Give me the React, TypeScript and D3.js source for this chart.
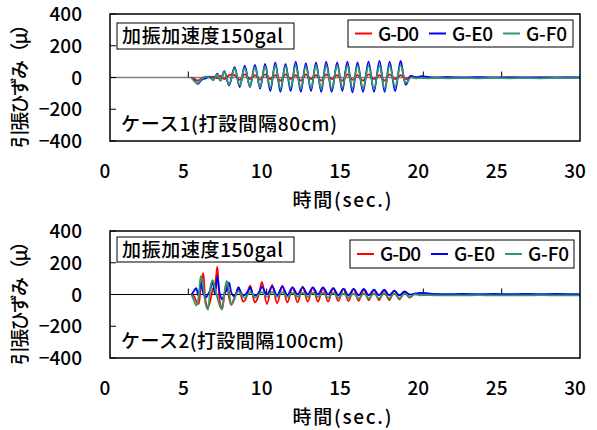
import React from 'react';
import * as d3 from 'd3';

// ---------- data ----------
const X_TICKS = [0, 5, 10, 15, 20, 25, 30];
const Y_TICKS = [400, 200, 0, -200, -400];
const Y_TICK_LABELS = ['400', '200', '0', '−200', '−400'];
const SERIES_NAMES = ['G-D0', 'G-E0', 'G-F0'];
const SERIES_COLORS = ['#ff0000', '#0000ff', '#339966'];
const X_TITLE = '時間(sec.)';
const Y_TITLE = '引張ひずみ（μ）';
const ACCEL_LABEL = '加振加速度150gal';
const CASE_LABELS = ['ケース1(打設間隔80cm)', 'ケース2(打設間隔100cm)'];

const case1Time = [
  5.2, 5.4, 5.6, 5.85, 6.1, 6.35, 6.6, 6.85, 7.05, 7.3, 7.6,
  7.95, 8.28, 8.6, 8.93, 9.25, 9.58, 9.9, 10.23, 10.55, 10.88, 11.2, 11.53, 11.85, 12.18,
  12.5, 12.83, 13.15, 13.48, 13.8, 14.15, 14.5, 14.83, 15.15, 15.48, 15.8, 16.15, 16.5,
  16.85, 17.2, 17.53, 17.85, 18.2, 18.55, 18.88,
  19.2, 19.5, 19.9, 20.3, 20.8, 21.5, 22.5, 23.5, 24.5, 25.5, 26.5, 27.5, 28.5, 29.5, 30,
];
const case1D0 = [
  0, -10, -20, -5, 5, 0, 5, -5, 10, -10, 15,
  15, -15, 20, -10, 15, -15, 20, -10, 15, -20, 20, -10, 15, -20, 20, -10, 15, -20,
  20, -10, 15, -20, 20, -15, 15, -20, 20, -10, 15, -20, 20, -10, 15, -10,
  5, 0, 2, 0, -2, 0, -2, -1, -2, 0, -2, -1, -2, -1, -2,
];
const case1E0 = [
  0, -20, -40, -15, -5, 5, -15, 25, -20, 40, -50,
  65, -60, 75, -60, 80, -70, 85, -85, 95, -90, 85, -85, 100, -90, 90, -85, 95, -90,
  100, -90, 95, -85, 100, -95, 95, -90, 100, -90, 105, -90, 100, -85, 105, -45,
  10, 0, 8, 3, 0, 2, 0, 2, 0, 1, 0, 1, 0, 1, 0,
];
const case1F0 = [
  0, -25, -35, -10, 5, 0, -15, 20, -20, 35, -45,
  55, -50, 60, -55, 65, -60, 70, -65, 75, -70, 70, -65, 75, -70, 70, -65, 75, -70,
  75, -70, 75, -65, 75, -70, 75, -70, 75, -70, 75, -70, 75, -60, 80, -35,
  0, -5, -3, -5, -3, -5, -4, -5, -3, -5, -4, -5, -3, -4, -4,
];

const case2Time = [
  5.2, 5.35, 5.5, 5.65, 5.8, 5.95, 6.1, 6.25, 6.4, 6.55, 6.7, 6.85, 7.0, 7.15, 7.3,
  7.45, 7.6, 7.75, 7.9, 8.05, 8.2, 8.35, 8.5, 8.65, 8.8, 8.95, 9.1, 9.25, 9.4, 9.55,
  9.7, 10.02, 10.35, 10.67, 11.0, 11.32, 11.65, 11.97, 12.3, 12.62, 12.95, 13.27, 13.6,
  13.92, 14.25, 14.57, 14.9, 15.22, 15.55, 15.87, 16.2, 16.52, 16.85, 17.17, 17.5,
  17.82, 18.15, 18.47, 18.8, 19.12,
  19.45, 19.8, 20.2, 20.7, 21.5, 22.5, 23.5, 24.5, 25.5, 26.5, 27.5, 28.5, 29.5, 30,
];
const case2D0 = [
  0, -10, -40, -60, 60, 135, -40, -80, -40, 30, 60, 175, -40, -85,
  0, 70, -20, -65, -30, 10, 45, 0, -45, -30, 20, 55, 0, -50, -30, 20,
  80, -60, 60, -55, 55, -50, 45, -50, 50, -45, 45, -45, 40, -45, 40, -40,
  35, -40, 35, -40, 30, -35, 30, -35, 25, -35, 25, -30, 15, -20,
  5, 0, 5, 0, -2, 0, -2, -1, -2, 0, -2, -1, -2, -2,
];
const case2E0 = [
  0, 20, 40, -10, 70, 10, -20, 0, 30, 85, 0, 115, 10, -30,
  0, 30, 75, 10, -10, 0, 45, 15, -5, 0, 20, 45, 5, -5, 0, 20,
  50, 0, 50, -5, 50, -5, 45, 0, 45, 0, 45, 0, 45, 0, 40, -5,
  35, -5, 35, -5, 35, -5, 30, -5, 30, -5, 25, -5, 20, 0,
  5, 10, 8, 3, 2, 3, 2, 3, 2, 3, 2, 3, 2, 2,
];
const case2F0 = [
  0, -35, -70, -20, 115, 60, -60, -95, 40, 90, 40, -20, -70, -95,
  10, 85, 20, -60, -40, 0, 20, 5, -15, -20, 0, 15, 0, -20, -10, 5,
  15, -15, 15, -15, 15, -15, 10, -15, 10, -15, 10, -15, 10, -20, 10, -20,
  5, -20, 5, -25, 5, -25, 5, -25, 5, -25, 5, -25, 5, -15,
  0, -5, -3, -5, -5, -6, -4, -6, -5, -6, -4, -6, -5, -5,
];

// ---------- layout ----------
const W = 597;
const H = 430;
const PLOT_LEFT = 110;
const PLOT_RIGHT = 580;
const FONT = "'Noto Sans CJK JP', 'Noto Sans', sans-serif";

const PANELS = [
  {
    top: 14, bottom: 141, time: case1Time, series: [case1D0, case1E0, case1F0],
    caseLabel: CASE_LABELS[0], caseLen: 216,
    accel: { x: 117, y: 23, w: 177, h: 26 },
    legend: { x: 348, y: 20, w: 225, h: 27 },
    zeroColor: '#808080', zeroWidth: 1.5,
  },
  {
    top: 231, bottom: 358, time: case2Time, series: [case2D0, case2E0, case2F0],
    caseLabel: CASE_LABELS[1], caseLen: 223,
    accel: { x: 117, y: 237, w: 177, h: 25 },
    legend: { x: 350, y: 240, w: 224, h: 28 },
    zeroColor: '#000000', zeroWidth: 1,
  },
];

function Panel({ p, idx }: { p: any; idx: number }) {
  const x = d3.scaleLinear().domain([0, 30]).range([PLOT_LEFT, PLOT_RIGHT]);
  const y = d3.scaleLinear().domain([-400, 400]).range([p.bottom, p.top]);
  const line = d3
    .line<[number, number]>()
    .x((d) => x(d[0]))
    .y((d) => y(d[1]))
    .curve(d3.curveCatmullRom.alpha(0.5));
  const clipId = `clip${idx}`;
  const y0 = y(0);
  const midY = (p.top + p.bottom) / 2;
  return (
    <g>
      <defs>
        <clipPath id={clipId}>
          <rect x={PLOT_LEFT} y={p.top} width={PLOT_RIGHT - PLOT_LEFT} height={p.bottom - p.top} />
        </clipPath>
      </defs>
      <line x1={PLOT_LEFT} x2={PLOT_RIGHT} y1={y0} y2={y0} stroke={p.zeroColor} strokeWidth={p.zeroWidth} />
      {X_TICKS.slice(1, -1).map((t) => (
        <line key={t} x1={x(t)} x2={x(t)} y1={y0} y2={y0 - 6} stroke="#000" strokeWidth={1} />
      ))}
      {Y_TICKS.map((t) => (
        <line key={t} x1={PLOT_LEFT} x2={PLOT_LEFT + 6} y1={y(t)} y2={y(t)} stroke="#000" strokeWidth={1} />
      ))}
      <g clipPath={`url(#${clipId})`}>
        {p.series.map((vals: number[], i: number) => {
          const pts: [number, number][] = p.time.map((t: number, k: number) => [t, vals[k]]);
          return (
            <path key={i} d={line(pts) || ''} fill="none" stroke={SERIES_COLORS[i]} strokeWidth={1.8} strokeLinejoin="round" />
          );
        })}
      </g>
      <rect x={PLOT_LEFT} y={p.top} width={PLOT_RIGHT - PLOT_LEFT} height={p.bottom - p.top} fill="none" stroke="#000" strokeWidth={1.5} />
      <rect x={p.accel.x} y={p.accel.y} width={p.accel.w} height={p.accel.h} fill="#fff" stroke="#000" strokeWidth={1} />
      <text x={p.accel.x + 5} y={p.accel.y + 20} fontSize={19} textLength={161} lengthAdjust="spacing">{ACCEL_LABEL}</text>
      <text x={121} y={p.bottom - 10} fontSize={19} textLength={p.caseLen} lengthAdjust="spacing">{p.caseLabel}</text>
      <rect x={p.legend.x} y={p.legend.y} width={p.legend.w} height={p.legend.h} fill="#fff" stroke="#000" strokeWidth={1} />
      {SERIES_NAMES.map((name, i) => {
        const lx = p.legend.x + 7 + i * 74;
        const ly = p.legend.y + p.legend.h / 2;
        return (
          <g key={name}>
            <line x1={lx} x2={lx + 17} y1={ly} y2={ly} stroke={SERIES_COLORS[i]} strokeWidth={2} />
            <text x={lx + 23} y={ly + 7} fontSize={19} textLength={41} lengthAdjust="spacing">{name}</text>
          </g>
        );
      })}
      {Y_TICKS.map((t, i) => (
        <text key={t} x={82} y={y(t) + 7} fontSize={19} textAnchor="end">{Y_TICK_LABELS[i]}</text>
      ))}
      {X_TICKS.map((t) => (
        <text key={t} x={x(t) - 5} y={p.bottom + 37} fontSize={19} textAnchor="middle">{t}</text>
      ))}
      <text x={342} y={p.bottom + 66} fontSize={19} textAnchor="middle" textLength={99} lengthAdjust="spacing">{X_TITLE}</text>
      <text
        transform={`translate(20, ${midY + 4}) rotate(-90)`}
        fontSize={19}
        textAnchor="middle"
        dy="0.36em"
        textLength={133}
        lengthAdjust="spacing"
      >
        {Y_TITLE}
      </text>
    </g>
  );
}

export default function App() {
  return (
    <svg
      width={W}
      height={H}
      viewBox={`0 0 ${W} ${H}`}
      style={{ position: 'absolute', left: 0, top: 0, background: '#fff' }}
      fontFamily={FONT}
      fontWeight={500}
    >
      <rect width={W} height={H} fill="#fff" />
      {PANELS.map((p, i) => (
        <Panel key={i} p={p} idx={i} />
      ))}
    </svg>
  );
}
